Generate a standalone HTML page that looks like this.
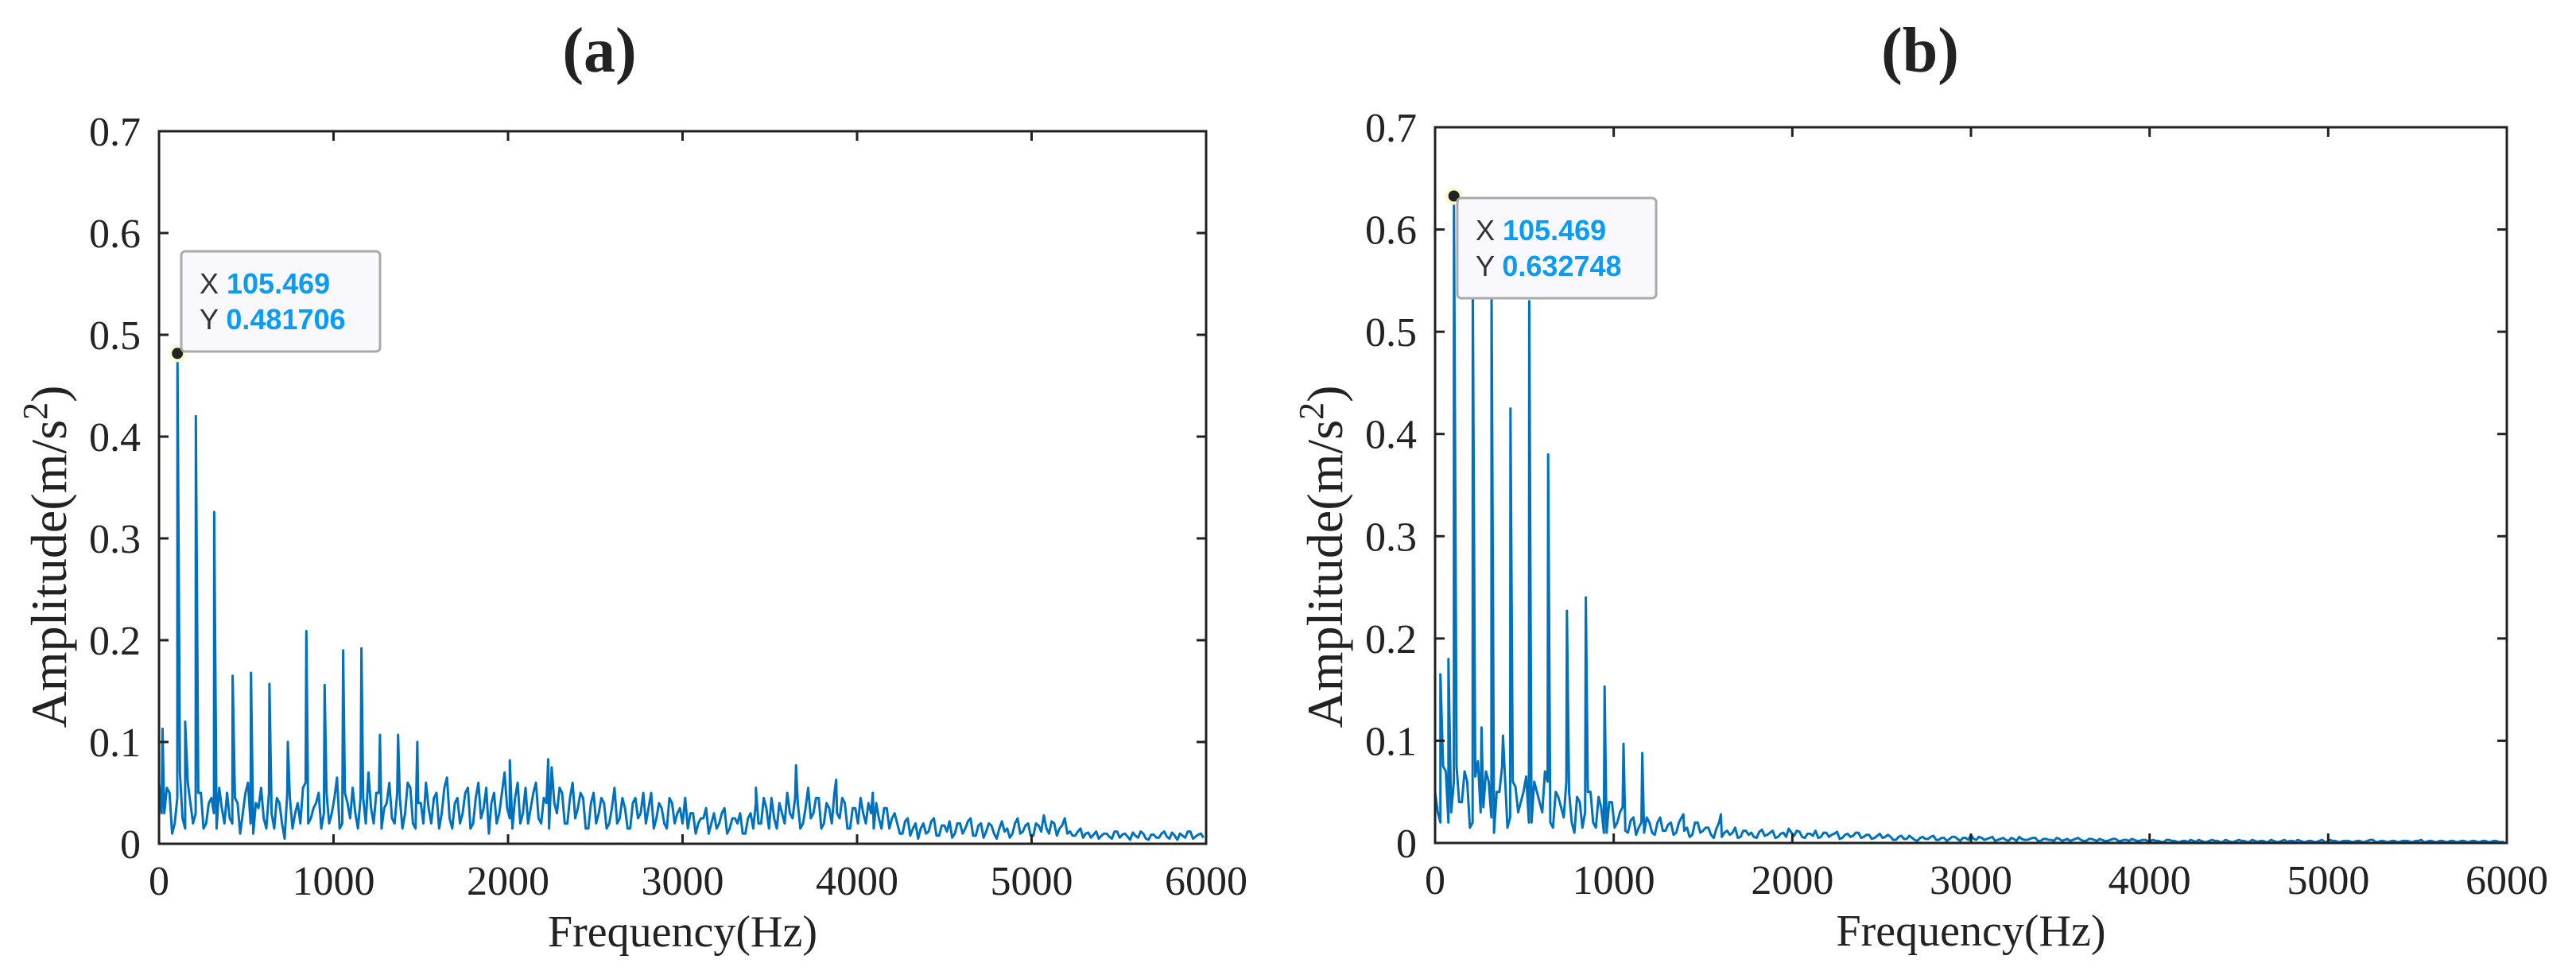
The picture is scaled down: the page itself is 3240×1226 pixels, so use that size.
<!DOCTYPE html>
<html><head><meta charset="utf-8"><style>
html,body{margin:0;padding:0;background:#fff;overflow:hidden;}
svg{display:block;}
text{font-family:"Liberation Serif",serif;fill:#222;}
.tt{font-family:"Liberation Sans",sans-serif;}
</style></head><body>
<svg id="fig" width="3240" height="1226" viewBox="0 0 3240 1226" xmlns="http://www.w3.org/2000/svg"></svg>
<script>
// ---- data: panel (a) ----
const stepHz = 30;
const noiseA = [0.06,0.03,0.05,0.02,0.07,0.015,0.04,0.03,0.05,0.02,0.045,0.015,0.035,0.05,0.02,0.04,0.03,0.06,0.01,0.035,0.025,0.05,0.015,0.04,0.005,0.045,0.03,0.02,0.06,0.025,0.04,0.015,0.05,0.03,0.065,0.02,0.04,0.055,0.015,0.045,0.07,0.02,0.05,0.035,0.06,0.02,0.045,0.03,0.055,0.015,
0.04,0.06,0.02,0.05,0.03,0.065,0.015,0.045,0.03,0.055,0.02,0.06,0.035,0.01,0.05,0.03,0.07,0.025,0.045,0.02,0.055,0.035,0.06,0.02,0.04,0.075,0.03,0.05,0.02,0.06,0.035,0.045,0.015,0.05,
0.03,0.04,0.02,0.055,0.025,0.035,0.015,0.045,0.03,0.02,0.05,0.025,0.035,0.015,0.04,0.03,0.02,
0.015,0.03,0.02,0.025,0.01,0.03,0.02,0.035,0.015,0.025,0.03,0.01,0.03,
0.04,0.02,0.035,0.045,0.015,0.03,0.05,0.025,0.04,0.02,0.055,0.03,0.045,0.02,0.035,0.05,0.025,0.04,0.015,0.035,0.045,0.02,0.03,0.04,0.015,0.035,0.025,
0.02,0.01,0.025,0.015,0.005,0.02,0.012,0.025,0.008,0.018,0.022,0.01,0.02,0.015,0.025,0.008,0.02,0.012,0.018,0.005,0.022,0.015,0.01,0.025,0.012,0.02,0.008,0.018,0.028,0.01,0.02,0.015,0.025,
0.012,0.008,0.015,0.01,0.006,0.012,0.008,0.01,0.005,0.012,0.009,0.007,0.011,0.006,0.01,0.004,0.009,0.006,0.012,0.005,0.008,0.01,0.006,0.012,0.007,0.01];
const noiseA2 = [0.03,0.055,0.01,0.045,0.025,0.06,0.02,0.05,0.015,0.04,0.03,0.055,0.02,0.025,0.045,0.01,0.05,0.02,0.04,0.055,0.015,0.03,0.045,0.02,0.05,0.015,0.04,0.055,0.02,0.035,0.05,0.03,0.02,0.045,0.015,0.05,0.025,0.03,0.045,0.02,0.035,0.05,0.015,0.04,0.025,0.05,0.015,0.06,0.02,0.04,
0.02,0.035,0.045,0.015,0.055,0.025,0.04,0.02,0.05,0.015,0.045,0.025,0.055,0.04,0.02,0.05,0.035,0.015,0.06,0.03,0.02,0.05,0.025,0.045,0.015,0.04,0.055,0.02,0.045,0.025,0.05,0.015,0.04,0.02,
0.045,0.015,0.035,0.02,0.045,0.015,0.04,0.025,0.05,0.035,0.015,0.04,0.02,0.045,0.02,0.035,0.045,
0.03,0.01,0.025,0.035,0.02,0.015,0.03,0.01,0.025,0.02,0.01,0.025,0.015,
0.02,0.045,0.015,0.025,0.04,0.02,0.03,0.045,0.015,0.035,0.025,0.045,0.015,0.04,0.02,0.03,0.045,0.015,0.035,0.02,0.03,0.04,0.015,0.025,0.035,0.015,0.03,
0.01,0.022,0.008,0.02,0.015,0.01,0.022,0.008,0.018,0.012,0.006,0.02,0.01,0.022,0.008,0.018,0.006,0.02,0.01,0.015,0.012,0.006,0.02,0.01,0.018,0.008,0.02,0.012,0.015,0.022,0.008,0.018,0.01,
0.008,0.012,0.006,0.011,0.009,0.005,0.01,0.007,0.012,0.006,0.01,0.004,0.008,0.012,0.005,0.009,0.006,0.01,0.007,0.011,0.004,0.008,0.012,0.005,0.009,0.006];
const peakFA = [20,105.469,150,211,316,422,527,633,738,844,949,1055,1160,1266,1370,1480,2010,2230,3420,3650,3880,4090];
const peakAA = [0.113,0.481706,0.12,0.42,0.326,0.165,0.168,0.157,0.1,0.209,0.156,0.19,0.192,0.107,0.107,0.1,0.082,0.083,0.055,0.077,0.063,0.05];
// ---- data: panel (b) ----
const noiseB = [0.05,0.02,0.07,0.03,0.075,0.04,0.06,0.02,0.08,0.035,0.06,0.01,0.05,0.07,0.025,0.055,0.04,0.065,0.02,0.05,0.03,0.06,0.015,0.045,0.025,0.05,0.01,0.04,0.03,0.05,0.015,0.035,0.01,0.04,
0.02,0.035,0.01,0.025,0.015,0.01,0.02,0.008,0.025,0.012,0.02,0.01,0.025,0.015,0.008,0.02,0.012,
0.015,0.005,0.02,0.01,0.008,0.015,0.006,0.012,0.01,0.005,0.013,0.008,0.012,0.006,0.01,0.014,0.007,0.011,0.005,0.009,0.012,0.006,0.01,0.008,0.011,0.005,0.009,0.007,0.01,0.006,0.008,0.005,0.009,0.006,
0.006,0.003,0.007,0.004,0.005,0.002,0.006,0.004,0.007,0.003,0.005,0.004,0.006,0.002,0.005,0.008,0.003,0.005,0.004,0.006,0.003,0.005,0.002,0.004,0.006,0.003,0.004,0.005,0.002,0.004,0.003,0.005,0.002,0.004,0.003,0.005,0.002,0.004,0.003,0.004,0.002,0.003,0.004,0.002,0.003,0.004,0.002,0.003,0.002,0.003,
0.002,0.001,0.003,0.002,0.001,0.002,0.003,0.001,0.002,0.001,0.003,0.002,0.001,0.002,0.001,0.003,0.002,0.001,0.002,0.002,0.001,0.003,0.001,0.002,0.001,0.002,0.003,0.001,0.002,0.001,0.002,0.001,0.003,0.002,0.001,0.002,0.001,0.002,0.001,0.002,0.003,0.001,0.002,0.001,0.002,0.001,0.002,0.001,0.002,0.003,0.001,0.002,0.001,0.002,0.001,0.002,0.001,0.002,0.001,0.002,0.001,0.002,0.001,0.002,0.001];
const noiseB2 = [0.03,0.075,0.02,0.06,0.04,0.07,0.015,0.065,0.03,0.07,0.025,0.05,0.075,0.015,0.06,0.03,0.05,0.02,0.06,0.04,0.07,0.02,0.05,0.035,0.06,0.02,0.045,0.015,0.05,0.02,0.045,0.01,0.04,0.015,
0.03,0.012,0.022,0.008,0.02,0.025,0.01,0.02,0.012,0.018,0.008,0.02,0.012,0.006,0.02,0.01,0.015,
0.008,0.014,0.006,0.012,0.01,0.005,0.012,0.008,0.006,0.011,0.007,0.01,0.005,0.009,0.006,0.01,0.012,0.006,0.009,0.007,0.005,0.01,0.006,0.009,0.004,0.008,0.006,0.01,0.005,0.008,0.004,0.007,0.005,0.008,
0.003,0.006,0.004,0.007,0.003,0.005,0.004,0.006,0.003,0.005,0.002,0.006,0.004,0.005,0.003,0.004,0.006,0.003,0.005,0.002,0.004,0.003,0.005,0.002,0.004,0.003,0.005,0.002,0.004,0.003,0.002,0.004,0.003,0.002,0.004,0.003,0.002,0.004,0.002,0.003,0.002,0.004,0.002,0.003,0.002,0.003,0.002,0.003,0.002,0.002,
0.001,0.003,0.002,0.001,0.002,0.001,0.002,0.003,0.001,0.002,0.002,0.001,0.003,0.001,0.002,0.002,0.001,0.003,0.001,0.002,0.001,0.002,0.001,0.003,0.002,0.001,0.002,0.001,0.002,0.001,0.003,0.001,0.002,0.001,0.002,0.002,0.001,0.002,0.001,0.003,0.001,0.002,0.001,0.002,0.001,0.002,0.002,0.001,0.002,0.001,0.002,0.001,0.002,0.001,0.002,0.001,0.002,0.001,0.002,0.001,0.002,0.001,0.002,0.001,0.001];
const peakFB = [30,75,105.469,211,260,316,380,422,527,633,738,844,949,1055,1160,1390,1600];
const peakAB = [0.165,0.18,0.632748,0.55,0.113,0.55,0.105,0.425,0.53,0.38,0.227,0.24,0.153,0.097,0.088,0.028,0.028];
const xTicks = [0,1000,2000,3000,4000,5000,6000];
const yTicks = [0,0.1,0.2,0.3,0.4,0.5,0.6,0.7];
const yTickLabels = ['0','0.1','0.2','0.3','0.4','0.5','0.6','0.7'];

const NS='http://www.w3.org/2000/svg';
const svg=document.getElementById('fig');
function mk(tag,attrs,parent){const e=document.createElementNS(NS,tag);for(const k in attrs)e.setAttribute(k,attrs[k]);(parent||svg).appendChild(e);return e;}

function panel(cfg){
  const g=mk('g',{});
  
  
  const L=cfg.L,R=cfg.R,T=cfg.T,B=cfg.B;
  const xs=f=>L+(Math.min(f,6000)/6000)*(R-L);
  const ys=v=>B-(v/0.7)*(B-T);
  const ti=mk('text',{x:cfg.titleX,y:90,'text-anchor':'middle','font-size':80,'font-weight':'bold'},g);
  ti.textContent=cfg.title;
  
  
  const pts=[];
  cfg.noise.forEach((v,i)=>pts.push([i*stepHz,v]));
  cfg.noise2.forEach((v,i)=>{if(i*stepHz+stepHz/2<=6000)pts.push([i*stepHz+stepHz/2,v]);});
  cfg.pf.forEach((f,i)=>pts.push([f,cfg.pa[i]]));
  pts.sort((a,b)=>a[0]-b[0]);
  const d=pts.map((p,i)=>(i?'L':'M')+xs(p[0]).toFixed(1)+','+ys(p[1]).toFixed(1)).join('');
  const line=mk('path',{d:d,fill:'none',stroke:'#0072BD','stroke-width':3,'stroke-linejoin':'round'},g);
  
  
  const box=mk('rect',{x:L,y:T,width:R-L,height:B-T,fill:'none',stroke:'#222','stroke-width':3},g);
  
  
  xTicks.forEach(f=>{
    const x=xs(f);
    mk('line',{x1:x,y1:B,x2:x,y2:B-12,stroke:'#222','stroke-width':3},g);
    mk('line',{x1:x,y1:T,x2:x,y2:T+12,stroke:'#222','stroke-width':3},g);
    const t=mk('text',{x:x,y:B+64,'text-anchor':'middle','font-size':52},g);
    t.textContent=String(f);
    
    
  });
  yTicks.forEach((v,i)=>{
    const y=ys(v);
    mk('line',{x1:L,y1:y,x2:L+12,y2:y,stroke:'#222','stroke-width':3},g);
    mk('line',{x1:R,y1:y,x2:R-12,y2:y,stroke:'#222','stroke-width':3},g);
    const t=mk('text',{x:L-23,y:y+18,'text-anchor':'end','font-size':52},g);
    t.textContent=yTickLabels[i];
    
    
  });
  const xl=mk('text',{x:(L+R)/2,y:B+129,'text-anchor':'middle','font-size':56},g);
  xl.textContent='Frequency(Hz)';
  
  
  const yl=mk('text',{x:0,y:0,'text-anchor':'middle','font-size':64,transform:`translate(${L-117},${700}) rotate(-90)`},g);
  yl.innerHTML='Amplitude(m/s<tspan dy="-24" font-size="44">2</tspan><tspan dy="24">)</tspan>';
  
  
  const px=xs(cfg.tipX), py=ys(cfg.tipY);
  const tip=mk('g',{},g);
  
  
  mk('circle',{cx:px,cy:py,r:11,fill:'#fbf7d0'},tip);
  mk('circle',{cx:px,cy:py,r:7,fill:'#222'},tip);
  const bx=cfg.boxX,by=cfg.boxY;
  mk('rect',{x:bx,y:by,width:250,height:126,rx:5,fill:'#f8f8fd',stroke:'#aaa','stroke-width':3},tip);
  const t1=mk('text',{x:bx+23,y:by+53,'font-size':36,class:'tt'},tip);
  t1.innerHTML='<tspan fill="#333">X </tspan><tspan fill="#0a9bf5" font-weight="bold">105.469</tspan>';
  const t2=mk('text',{x:bx+23,y:by+98,'font-size':36,class:'tt'},tip);
  t2.innerHTML='<tspan fill="#333">Y </tspan><tspan fill="#0a9bf5" font-weight="bold">'+cfg.tipY+'</tspan>';
}
panel({name:'panel-a',title:'(a)',titleX:754,L:200,R:1517,T:165,B:1061,noise:noiseA,noise2:noiseA2,pf:peakFA,pa:peakAA,tipX:105.469,tipY:0.481706,boxX:228,boxY:316});
panel({name:'panel-b',title:'(b)',titleX:2415,L:1805,R:3153,T:160,B:1060,noise:noiseB,noise2:noiseB2,pf:peakFB,pa:peakAB,tipX:105.469,tipY:0.632748,boxX:1833,boxY:249});
</script>
</body></html>
